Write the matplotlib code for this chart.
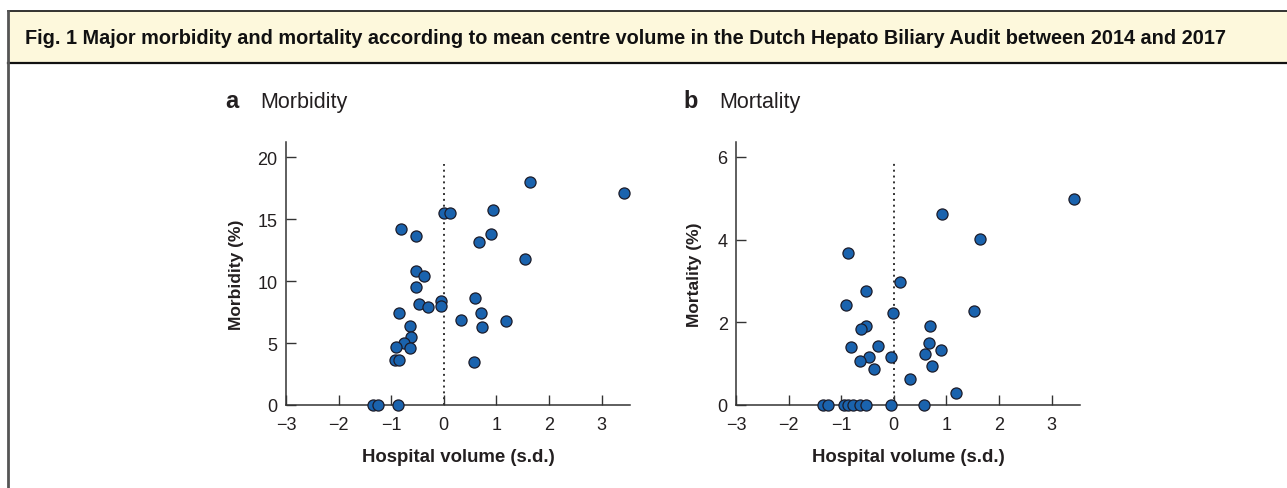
import matplotlib
matplotlib.use("Agg")
import matplotlib.pyplot as plt
from matplotlib.patches import Rectangle
from matplotlib.lines import Line2D

# hospital volume (s.d.) and major morbidity (%)
x_morb = [1.63, 0.00, 0.11, 0.94, -0.82, -0.52, 0.90, 0.67, 1.54, -0.53,
          -0.38, -0.53, 0.60, -0.06, -0.06, -0.48, -0.30, -0.85, 0.70, 0.32,
          1.19, 0.73, -0.65, -0.62, -0.76, -0.91, -0.65, -0.93, -0.86, 0.58,
          -1.34, -1.26, -0.88, 3.43]
morb = [18.0, 15.5, 15.5, 15.77, 14.2, 13.64, 13.77, 13.15, 11.8, 10.84,
        10.38, 9.54, 8.68, 8.41, 8.03, 8.19, 7.92, 7.47, 7.44, 6.87,
        6.79, 6.33, 6.42, 5.53, 4.99, 4.69, 4.58, 3.67, 3.67, 3.5,
        0.0, 0.0, 0.0, 17.1]

# hospital volume (s.d.) and mortality (%)
x_mort = [0.92, 1.63, -0.88, 0.11, -0.53, -0.91, -0.01, 1.52, -0.53, -0.63,
          0.68, -0.82, -0.30, 0.66, 0.89, 0.60, -0.47, -0.06, -0.65, 0.72,
          -0.38, 0.31, 1.18, -1.34, -1.26, -0.94, -0.87, -0.77, -0.64, -0.53,
          -0.06, 0.58, 3.43]
mort = [4.62, 4.01, 3.68, 2.97, 2.75, 2.42, 2.22, 2.28, 1.91, 1.83,
        1.91, 1.41, 1.43, 1.49, 1.33, 1.24, 1.16, 1.15, 1.07, 0.94,
        0.87, 0.62, 0.29, 0, 0, 0, 0, 0, 0, 0,
        0, 0, 4.97]

xticks = [-3, -2, -1, 0, 1, 2, 3]

W, H = 1287, 489
plt.rcParams['font.family'] = ['Liberation Sans', 'DejaVu Sans']
TXT = '#231f20'
BLUE = '#1a63ae'

fig = plt.figure(figsize=(W / 100, H / 100), dpi=100)


def fx(px):
    return px / W


def fy(py):
    return 1 - py / H


# frame: header bar and left border
fig.add_artist(Rectangle((fx(8), fy(64)), fx(1300 - 8), fy(12) - fy(64),
                         transform=fig.transFigure, facecolor='#fdf8dc',
                         edgecolor='none', zorder=0))
fig.add_artist(Line2D([fx(8), 1], [fy(12), fy(12)], transform=fig.transFigure,
                      color='#111111', lw=1.2))
fig.add_artist(Line2D([fx(8), 1], [fy(64), fy(64)], transform=fig.transFigure,
                      color='#111111', lw=1.6))
fig.add_artist(Line2D([fx(8), fx(8)], [fy(12), 0], transform=fig.transFigure,
                      color='#555555', lw=2.0))

fig.text(fx(25), fy(38), 'Fig. 1 Major morbidity and mortality according to mean '
         'centre volume in the Dutch Hepato Biliary Audit between 2014 and 2017',
         fontsize=14.3, fontweight='bold', color='#111111', va='center', ha='left')

panels = [
    (286, 'a', 'Morbidity', x_morb, morb, 21.24, 19.5, [0, 5, 10, 15, 20],
     'Morbidity (%)', 225, 260, -0.122),
    (736, 'b', 'Mortality', x_mort, mort, 6.36, 5.86, [0, 2, 4, 6],
     'Mortality (%)', 683, 719, -0.099),
]

for left, letter, name, xs, ys, ytop, vtop, yticks, ylab, lx, nx, ylx in panels:
    ax = fig.add_axes([fx(left), fy(406), fx(344), (406 - 143) / H])
    ax.scatter(xs, ys, s=64, color=BLUE, edgecolor='#1c1c2a', linewidth=0.9,
               zorder=3, clip_on=False)
    ax.plot([0, 0], [0, vtop], linestyle=(0, (1, 2)), color='#333333', lw=1.4,
            zorder=2)
    ax.set_xlim(-3, 3.54)
    ax.set_ylim(0, ytop)
    ax.set_xticks(xticks)
    ax.set_xticklabels(['\u22123', '\u22122', '\u22121', '0', '1', '2', '3'])
    ax.set_yticks(yticks)
    for s in ['top', 'right']:
        ax.spines[s].set_visible(False)
    for s in ['left', 'bottom']:
        ax.spines[s].set_color('#333333')
        ax.spines[s].set_linewidth(1.1)
    ax.tick_params(direction='in', length=7.5, width=1, color='#333333',
                   labelsize=13, labelcolor=TXT, pad=6)
    ax.tick_params(axis='x', pad=8)
    ax.set_xlabel('Hospital volume (s.d.)', fontsize=13.4, fontweight='bold',
                  color=TXT)
    ax.set_ylabel(ylab, fontsize=12.5, fontweight='bold', color=TXT)
    ax.xaxis.set_label_coords(0.5, -0.163)
    ax.yaxis.set_label_coords(ylx, 0.5)
    fig.text(fx(lx), fy(108), letter, fontsize=17, fontweight='bold', color=TXT,
             ha='left', va='baseline')
    fig.text(fx(nx), fy(108), name, fontsize=15.5, color=TXT,
             ha='left', va='baseline')

plt.savefig('out.png', dpi=100)
